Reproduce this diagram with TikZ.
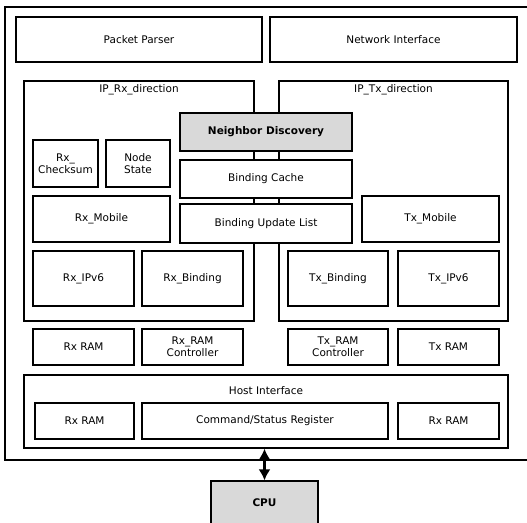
\documentclass[tikz,border=0pt]{standalone}
\usepackage{fontspec}
\setmainfont{DejaVu Sans}
\usetikzlibrary{arrows.meta}

\begin{document}
\begin{tikzpicture}[x=1pt, y=-1pt, >={Latex[length=11pt,width=12pt]},
  blk/.style={draw, line width=1.2pt, fill=white, inner sep=1pt, align=center,
              font=\fontsize{10.5}{12}\selectfont},
  grp/.style={draw, line width=1.4pt},
  shaded/.style={blk, fill=gray!30, font=\fontsize{10.5}{12}\selectfont\bfseries},
  title/.style={font=\fontsize{10.5}{12}\selectfont}]

\useasboundingbox (0,0) rectangle (527,522);

% Outer frame
\node[grp, minimum width=530pt, minimum height=453pt] (chip) at (270,233.5) {};

% Top row
\node[blk, minimum width=246pt, minimum height=45pt] (parser) at (139,39.5) {Packet Parser};
\node[blk, minimum width=247pt, minimum height=45pt] (netif) at (393.5,39.5) {Network Interface};

% Direction groups
\node[grp, minimum width=230pt, minimum height=240pt] (rxdir) at (139,201) {};
\node[grp, minimum width=229pt, minimum height=240pt] (txdir) at (393.5,201) {};
\node[title] (rxtitle) at (139,90) {IP\_Rx\_direction};
\node[title] (txtitle) at (393.5,90) {IP\_Tx\_direction};

% Shared blocks
\node[shaded, minimum width=172pt, minimum height=38pt] (nd) at (266,132) {Neighbor Discovery};
\node[blk, minimum width=172pt, minimum height=38pt] (cache) at (266,179) {Binding Cache};
\node[blk, minimum width=172pt, minimum height=39pt] (bul) at (266,223.5) {Binding Update List};

% Rx side
\node[blk, minimum width=65pt, minimum height=47pt] (rxcsum) at (65.5,163.5) {Rx\_\\Checksum};
\node[blk, minimum width=64pt, minimum height=47pt] (nstate) at (138,163.5) {Node\\State};
\node[blk, minimum width=137pt, minimum height=46pt] (rxmob) at (101.5,219) {Rx\_Mobile};
\node[blk, minimum width=101pt, minimum height=55pt] (rxip) at (83.5,278.5) {Rx\_IPv6};
\node[blk, minimum width=101pt, minimum height=55pt] (rxbind) at (192.5,278.5) {Rx\_Binding};

% Tx side
\node[blk, minimum width=137pt, minimum height=46pt] (txmob) at (430.5,219) {Tx\_Mobile};
\node[blk, minimum width=100pt, minimum height=55pt] (txbind) at (338,278.5) {Tx\_Binding};
\node[blk, minimum width=101pt, minimum height=55pt] (txip) at (448.5,278.5) {Tx\_IPv6};

% RAM row
\node[blk, minimum width=101pt, minimum height=36pt] (rxram) at (83.5,347) {Rx RAM};
\node[blk, minimum width=101pt, minimum height=36pt] (rxctl) at (192.5,347) {Rx\_RAM\\Controller};
\node[blk, minimum width=100pt, minimum height=36pt] (txctl) at (338,347) {Tx\_RAM\\Controller};
\node[blk, minimum width=101pt, minimum height=36pt] (txram) at (448.5,347) {Tx RAM};

% Host interface
\node[grp, minimum width=484pt, minimum height=73pt] (host) at (266,411.5) {};
\node[title] (hosttitle) at (266,391) {Host Interface};
\node[blk, minimum width=99pt, minimum height=36pt] (hrxram) at (84.5,421) {Rx RAM};
\node[blk, minimum width=246pt, minimum height=36pt] (csr) at (265,421) {Command/Status Register};
\node[blk, minimum width=101pt, minimum height=36pt] (hrxram2) at (448.5,421) {Rx RAM};

% CPU
\node[shaded, minimum width=107pt, minimum height=43pt] (cpu) at (264.5,502.5) {CPU};

% Arrow
\draw[<->, line width=3.2pt] (cpu.north |- host.south) -- (cpu.north);

\end{tikzpicture}
\end{document}
